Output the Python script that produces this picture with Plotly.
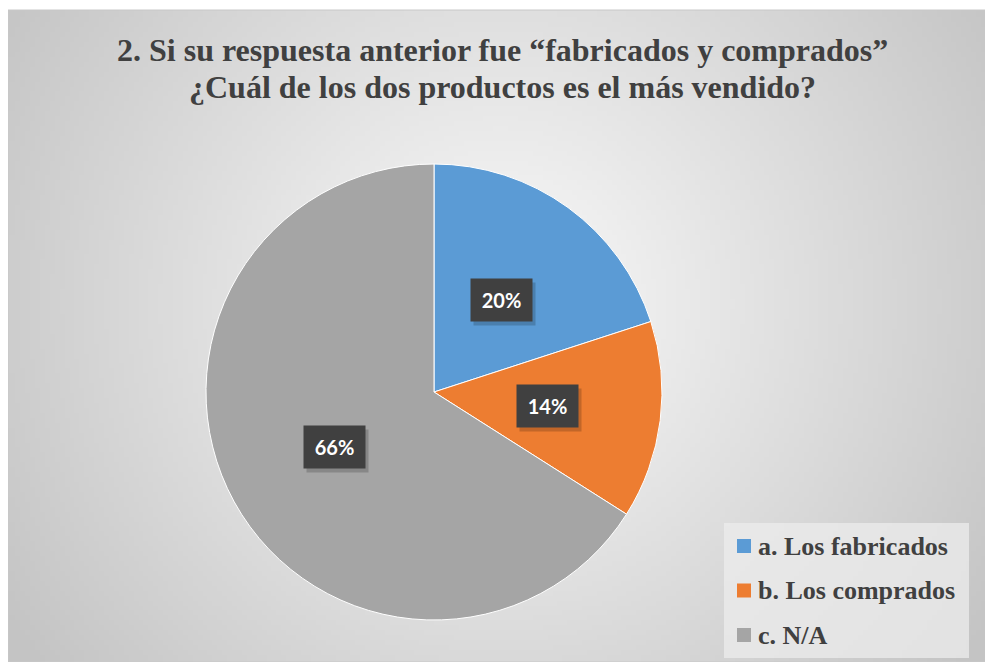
import math, zlib, struct, base64
import plotly.graph_objects as go

categories = ["a. Los fabricados", "b. Los comprados", "c. N/A"]
values = [20, 14, 66]
colors = ["#5B9BD5", "#ED7D31", "#A5A5A5"]
title_lines = ["2. Si su respuesta anterior fue \u201cfabricados y comprados\u201d",
               "\u00bfCu\u00e1l de los dos productos es el m\u00e1s vendido?"]

# page is 993x662; browser body margin puts the figure at (8, 8)
OFF = 8
FW, FH = 993 - OFF, 662 - OFF

def fx(p):
    return (p - OFF) / FW

def fy(p):
    return 1 - (p - OFF) / FH

# ---- radial gradient background as an embedded PNG ----
def gradient_png(w, h):
    rows = []
    cx, cy = 0.5, 0.45
    for j in range(h):
        row = bytearray([0])
        for i in range(w):
            dx = (i / (w - 1) - cx) * 1.5
            dy = (j / (h - 1) - cy)
            d = min(1.0, math.sqrt(dx * dx + dy * dy) / 0.9)
            v = int(round(250 - (250 - 196) * d))
            row += bytes([v, v, v])
        rows.append(bytes(row))
    raw = b"".join(rows)
    def chunk(t, data):
        c = struct.pack(">I", len(data)) + t + data
        return c + struct.pack(">I", zlib.crc32(t + data) & 0xffffffff)
    png = b"\x89PNG\r\n\x1a\n" + chunk(b"IHDR", struct.pack(">IIBBBBB", w, h, 8, 2, 0, 0, 0))
    png += chunk(b"IDAT", zlib.compress(raw, 9)) + chunk(b"IEND", b"")
    return "data:image/png;base64," + base64.b64encode(png).decode()

bx0, by0 = 0.0, fy(10)

# pie geometry (page pixels)
cx_px, cy_px, R = 434, 392, 228
dom_x = [fx(cx_px - R), fx(cx_px + R)]
dom_y = [fy(cy_px + R), fy(cy_px - R)]

fig = go.Figure(go.Pie(
    labels=categories, values=values, sort=False, direction="clockwise", rotation=0,
    marker=dict(colors=colors, line=dict(color="white", width=1)),
    textinfo="none", hoverinfo="label+percent", domain=dict(x=dom_x, y=dom_y),
    showlegend=False,
))

annotations = []
shapes = [dict(type="rect", xref="paper", yref="paper", x0=bx0, y0=0, x1=1, y1=by0,
               line=dict(color="#c8c8c8", width=1), layer="below")]
# title
for k, line in enumerate(title_lines):
    annotations.append(dict(text="<b>" + line + "</b>", x=fx(503), y=fy(50 + 37 * k),
                            xref="paper", yref="paper", showarrow=False,
                            xanchor="center", yanchor="middle",
                            font=dict(family="Liberation Serif", size=32, color="#404040")))
# data labels at half radius on each slice's mid-angle
total = sum(values)
cum = 0
for v in values:
    ang = (cum + v / 2) / total * 360
    cum += v
    a = math.radians(ang)
    px = cx_px + 0.5 * R * math.sin(a)
    py = cy_px - 0.5 * R * math.cos(a)
    common = dict(x=fx(px), y=fy(py), xref="paper", yref="paper", showarrow=False,
                  xanchor="center", yanchor="middle", width=45, height=26, borderpad=8)
    annotations.append(dict(text=" ", bgcolor="rgba(0,0,0,0.18)", xshift=3, yshift=-4,
                            font=dict(size=20), **common))
    annotations.append(dict(text="<b>%d%%</b>" % round(v / total * 100), bgcolor="#404040",
                            font=dict(family="Lato", size=20, color="white"), **common))

# legend (drawn manually to match entry spacing)
shapes.append(dict(type="rect", xref="paper", yref="paper", x0=fx(724), x1=fx(969),
                   y0=fy(658), y1=fy(523), fillcolor="rgba(236,236,236,0.75)",
                   line=dict(width=0)))
for k, (cat, col) in enumerate(zip(categories, colors)):
    yc = 546 + 44.5 * k
    shapes.append(dict(type="rect", xref="paper", yref="paper", x0=fx(737), x1=fx(751),
                       y0=fy(yc + 7), y1=fy(yc - 7), fillcolor=col, line=dict(width=0)))
    annotations.append(dict(text="<b>" + cat + "</b>", x=fx(756), y=fy(yc),
                            xref="paper", yref="paper", showarrow=False,
                            xanchor="left", yanchor="middle",
                            font=dict(family="Liberation Serif", size=26, color="#404040")))

fig.update_layout(
    width=FW, height=FH, margin=dict(l=0, r=0, t=0, b=0),
    paper_bgcolor="white", plot_bgcolor="white",
    images=[dict(source=gradient_png(200, 132), xref="paper", yref="paper",
                 x=bx0, y=by0, sizex=1 - bx0, sizey=by0, sizing="stretch",
                 xanchor="left", yanchor="top", layer="below")],
    shapes=shapes,
    annotations=annotations,
    showlegend=False,
)

fig.write_html("out.html")
